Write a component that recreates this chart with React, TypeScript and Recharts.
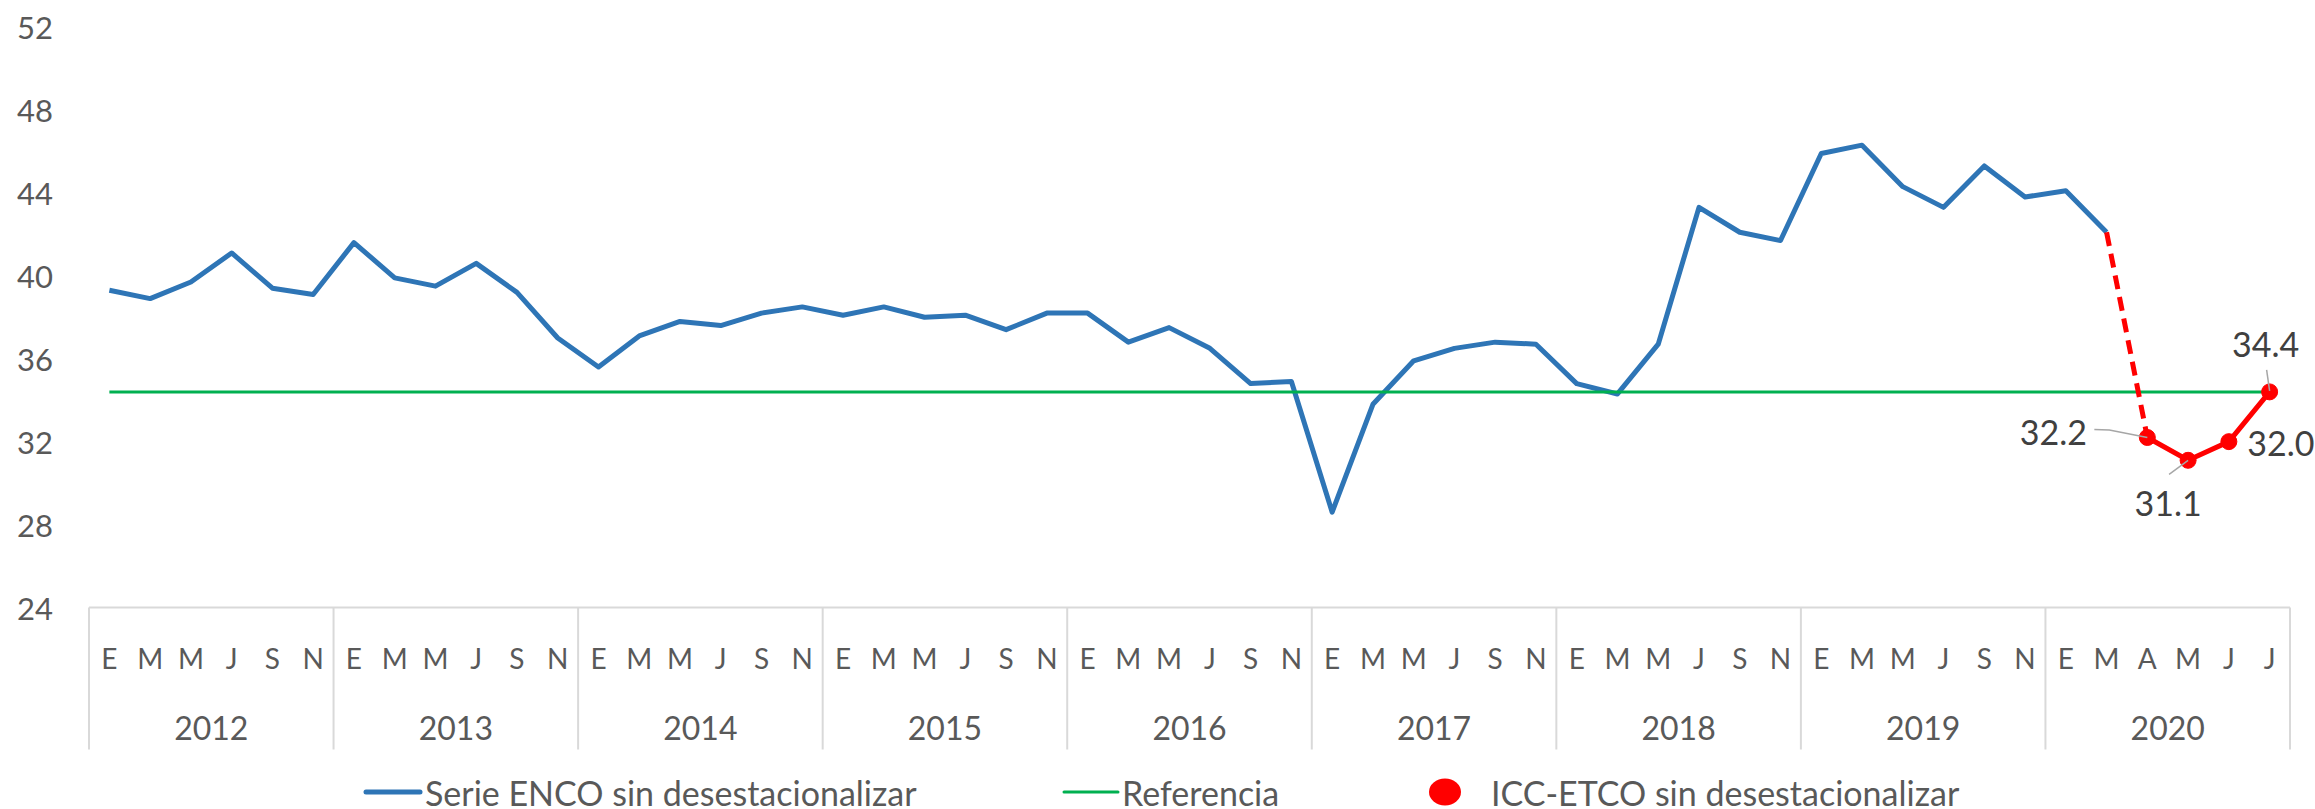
import React from 'react';
import { LineChart, Line, XAxis, YAxis, Legend, LabelList } from 'recharts';

const years = ['2012', '2013', '2014', '2015', '2016', '2017', '2018', '2019', '2020'];
const monthLabels = [
  'E', 'M', 'M', 'J', 'S', 'N',
  'E', 'M', 'M', 'J', 'S', 'N',
  'E', 'M', 'M', 'J', 'S', 'N',
  'E', 'M', 'M', 'J', 'S', 'N',
  'E', 'M', 'M', 'J', 'S', 'N',
  'E', 'M', 'M', 'J', 'S', 'N',
  'E', 'M', 'M', 'J', 'S', 'N',
  'E', 'M', 'M', 'J', 'S', 'N',
  'E', 'M', 'A', 'M', 'J', 'J',
];
const encoValues = [
  39.3, 38.9, 39.7, 41.1, 39.4, 39.1,
  41.6, 39.9, 39.5, 40.6, 39.2, 37.0,
  35.6, 37.1, 37.8, 37.6, 38.2, 38.5,
  38.1, 38.5, 38.0, 38.1, 37.4, 38.2,
  38.2, 36.8, 37.5, 36.5, 34.8, 34.9,
  28.6, 33.8, 35.9, 36.5, 36.8, 36.7,
  34.8, 34.3, 36.7, 43.3, 42.1, 41.7,
  45.9, 46.3, 44.3, 43.3, 45.3, 43.8,
  44.1, 42.1,
];
const iccStartIndex = 50;
const iccValues = [32.2, 31.1, 32.0, 34.4];
const referenceValue = 34.4;
const yTicks = [24, 28, 32, 36, 40, 44, 48, 52];
const MONTHS_PER_YEAR = 6;

const data = monthLabels.map((m, i) => {
  const icc = i >= iccStartIndex ? iccValues[i - iccStartIndex] : null;
  let bridge: number | null = null;
  if (i === iccStartIndex - 1) bridge = encoValues[i];
  if (i === iccStartIndex) bridge = iccValues[0];
  return {
    cat: i,
    month: m,
    year: years[Math.floor(i / MONTHS_PER_YEAR)],
    enco: i < encoValues.length ? encoValues[i] : null,
    ref: referenceValue,
    icc,
    bridge,
  };
});

const W = 2315;
const H = 809;
const MARGIN = { top: 27, right: 25, left: 29, bottom: 0 };
const YAXIS_W = 60;
const PLOT_W = W - MARGIN.left - MARGIN.right - YAXIS_W;
const LEGEND_H = 36;

const FONT = 'Lato, "Open Sans", "Liberation Sans", sans-serif';
const AXIS_COLOR = '#595959';
const LINE_GREY = '#d9d9d9';

const YTick = (props: any) => {
  const { x, y, payload } = props;
  return (
    <text x={x} y={y} textAnchor="end" dominantBaseline="central" fill={AXIS_COLOR} fontSize={31} fontFamily={FONT}>
      {payload.value}
    </text>
  );
};

const CategoryTick = (props: any) => {
  const { x, y, payload } = props;
  const i = payload.value as number;
  const band = PLOT_W / monthLabels.length;
  const posInYear = i % MONTHS_PER_YEAR;
  const isFirst = posInYear === 0;
  const isLast = i === monthLabels.length - 1;
  return (
    <g>
      <text x={x} y={y + 50} textAnchor="middle" dominantBaseline="central" fill={AXIS_COLOR} fontSize={28} fontFamily={FONT}>
        {monthLabels[i]}
      </text>
      {isFirst && (
        <>
          <line x1={x - band / 2} x2={x - band / 2} y1={y} y2={y + 142} stroke={LINE_GREY} strokeWidth={2} />
          <text
            x={x + band * (MONTHS_PER_YEAR - 1) / 2}
            y={y + 120}
            textAnchor="middle"
            dominantBaseline="central"
            fill={AXIS_COLOR}
            fontSize={32}
            fontFamily={FONT}
          >
            {data[i].year}
          </text>
        </>
      )}
      {isLast && <line x1={x + band / 2} x2={x + band / 2} y1={y} y2={y + 142} stroke={LINE_GREY} strokeWidth={2} />}
    </g>
  );
};

const labelPlacement: Record<number, { dx: number; dy: number; leader?: number[][] }> = {
  50: { dx: -94, dy: -6, leader: [[-53, -8], [-38, -7.5], [0, 0]] },
  51: { dx: -20, dy: 42, leader: [[-19, 14], [0, 0]] },
  52: { dx: 52, dy: 1 },
  53: { dx: -4, dy: -48, leader: [[-3, -22], [0, -1]] },
};

const IccLabel = (props: any) => {
  const { x, y, value, index } = props;
  if (value == null) return null;
  const idx = index >= iccStartIndex ? index : iccStartIndex + index;
  const p = labelPlacement[idx] || { dx: 0, dy: -30 };
  return (
    <g>
      {p.leader && (
        <polyline
          points={p.leader.map(([a, b]) => `${x + a},${y + b}`).join(' ')}
          fill="none"
          stroke="#a6a6a6"
          strokeWidth={1.5}
        />
      )}
      <text x={x + p.dx} y={y + p.dy} textAnchor="middle" dominantBaseline="central" fill="#404040" fontSize={34} fontFamily={FONT}>
        {Number(value).toFixed(1)}
      </text>
    </g>
  );
};

const legendItems = [
  { key: 'enco', label: 'Serie ENCO sin desestacionalizar', type: 'line', color: '#2e75b6', x1: 366, x2: 420, w: 5, tx: 425 },
  { key: 'ref', label: 'Referencia', type: 'line', color: '#00b050', x1: 1064, x2: 1118, w: 3, tx: 1122 },
  { key: 'icc', label: 'ICC-ETCO sin desestacionalizar', type: 'dot', color: '#ff0000', x1: 1445, x2: 1445, w: 0, tx: 1491 },
];

const LegendContent = () => (
  <svg width={W} height={LEGEND_H} style={{ display: 'block', overflow: 'visible' }}>
    {legendItems.map((it) => (
      <g key={it.key}>
        {it.type === 'line' ? (
          <line x1={it.x1} x2={it.x2} y1={19} y2={19} stroke={it.color} strokeWidth={it.w} strokeLinecap="round" />
        ) : (
          <ellipse cx={it.x1} cy={19} rx={16} ry={13.5} fill={it.color} />
        )}
        <text x={it.tx} y={19} dominantBaseline="central" fill={AXIS_COLOR} fontSize={34} fontFamily={FONT}>
          {it.label}
        </text>
      </g>
    ))}
  </svg>
);

export default function App() {
  return (
    <div style={{ width: W, height: H, background: '#fff' }}>
      <style>{`body{margin:0;background:#fff;}`}</style>
      <LineChart width={W} height={H} data={data} margin={MARGIN}>
        <XAxis
          dataKey="cat"
          type="category"
          scale="band"
          interval={0}
          tick={<CategoryTick />}
          tickLine={false}
          tickSize={0}
          tickMargin={0}
          axisLine={{ stroke: LINE_GREY, strokeWidth: 2 }}
          height={165.5}
        />
        <YAxis
          domain={[24, 52]}
          ticks={yTicks}
          type="number"
          axisLine={false}
          tickLine={false}
          tickSize={0}
          tickMargin={36}
          width={YAXIS_W}
          tick={<YTick />}
          interval={0}
        />
        <Legend verticalAlign="bottom" content={<LegendContent />} wrapperStyle={{ left: 0, width: W, height: LEGEND_H }} />
        <Line dataKey="enco" name="Serie ENCO sin desestacionalizar" stroke="#2e75b6" strokeWidth={5} dot={false} isAnimationActive={false} strokeLinejoin="round" />
        <Line dataKey="ref" name="Referencia" stroke="#00b050" strokeWidth={3} dot={false} isAnimationActive={false} />
        <Line dataKey="bridge" stroke="#ff0000" strokeWidth={5} strokeDasharray="14 8" dot={false} isAnimationActive={false} legendType="none" />
        <Line
          dataKey="icc"
          name="ICC-ETCO sin desestacionalizar"
          stroke="#ff0000"
          strokeWidth={5}
          dot={{ r: 8, fill: '#ff0000', stroke: '#ff0000', strokeWidth: 1 }}
          isAnimationActive={false}
        >
          <LabelList dataKey="icc" content={<IccLabel />} />
        </Line>
      </LineChart>
    </div>
  );
}
